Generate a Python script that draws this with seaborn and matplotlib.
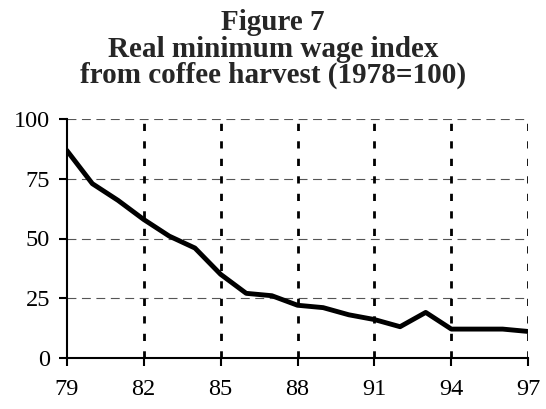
import pandas as pd
import matplotlib.pyplot as plt
import seaborn as sns

# data
years = [79, 80, 81, 82, 83, 84, 85, 86, 87, 88, 89, 90, 91, 92, 93, 94, 95, 96, 97]
wage_index = [87, 73, 66, 58, 51, 46, 35, 27, 26, 22, 21, 18, 16, 13, 19, 12, 12, 12, 11]
x_ticks = [79, 82, 85, 88, 91, 94, 97]
y_ticks = [0, 25, 50, 75, 100]
title_lines = ["Figure 7", "Real minimum wage index", "from coffee harvest (1978=100)"]

df = pd.DataFrame({"year": years, "index": wage_index})

sns.set_style("white")
plt.rcParams['font.family'] = ['Liberation Serif', 'DejaVu Serif']

W, H = 546, 409
fig = plt.figure(figsize=(W / 100, H / 100), dpi=100)
ax = fig.add_axes([66.7 / W, 1 - 357.7 / H, (528.3 - 66.7) / W, (357.7 - 119.3) / H])

sns.lineplot(data=df, x="year", y="index", color="black", linewidth=3.5, ax=ax)

ax.set_xlim(79, 97)
ax.set_ylim(0, 100)
ax.set_xticks(x_ticks)
ax.set_yticks(y_ticks)
ax.set_xlabel("")
ax.set_ylabel("")

# grid: dashed grey horizontals, dotted black verticals
for y in y_ticks[1:]:
    ax.axhline(y, color="#555555", linewidth=0.8, linestyle=(0, (8, 5)), zorder=0)
for x in x_ticks[1:]:
    ax.axvline(x, color="black", linewidth=2.0, linestyle=(0, (2.6, 3.7)), zorder=0)

for s in ["top", "right"]:
    ax.spines[s].set_visible(False)
for s in ["left", "bottom"]:
    ax.spines[s].set_color("black")
    ax.spines[s].set_linewidth(1.5)

ax.tick_params(axis="both", direction="out", length=6, width=1.5, color="black",
               labelsize=17.5, left=True, bottom=True)
ax.tick_params(axis="x", pad=9)
ax.tick_params(axis="y", pad=6)
for lab in ax.get_xticklabels() + ax.get_yticklabels():
    lab.set_color("black")

# three-line bold title, baselines
for txt, base in zip(title_lines, [30, 57, 83]):
    fig.text(0.5, 1 - base / H, txt, ha="center", va="baseline",
             fontsize=21, fontweight="bold")

plt.savefig("out.png", dpi=100)
